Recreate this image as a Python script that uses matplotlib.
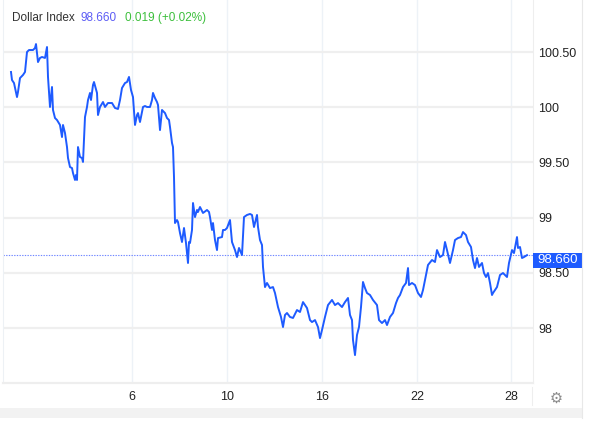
#!/usr/bin/env python3
"""Dollar Index intraday chart — re-drawn with matplotlib"""
import matplotlib
matplotlib.use("Agg")
import matplotlib.pyplot as plt
from matplotlib.patches import Rectangle
from matplotlib.transforms import blended_transform_factory

plt.rcParams['font.family'] = ['Liberation Sans', 'DejaVu Sans']

# trading hours since the first print
hours = [
    0, 1, 3, 6, 7, 9, 12, 14, 16, 18,
    22, 24, 25, 27, 29, 31, 34, 36, 37, 39,
    41, 42, 44, 46, 49, 51, 52, 54, 56, 57,
    59, 61, 62, 64, 65, 66, 67, 69, 71, 72,
    74, 76, 77, 79, 80, 82, 83, 86, 87, 89,
    92, 94, 97, 101, 104, 107, 109, 111, 114, 116,
    118, 120, 122, 124, 126, 127, 129, 131, 132, 134,
    136, 139, 141, 142, 144, 146, 147, 149, 151, 153,
    154, 156, 158, 159, 161, 162, 163, 164, 166, 167,
    169, 171, 173, 175, 177, 178, 179, 181, 182, 184,
    186, 187, 189, 192, 196, 198, 199, 201, 202, 204,
    206, 207, 211, 212, 214, 216, 219, 221, 224, 226,
    228, 231, 233, 236, 239, 241, 243, 246, 247, 249,
    251, 252, 254, 256, 259, 262, 264, 267, 270, 272,
    274, 276, 279, 282, 286, 289, 292, 296, 299, 301,
    304, 307, 309, 311, 314, 317, 321, 324, 327, 331,
    334, 337, 339, 341, 342, 344, 346, 348, 350, 352,
    354, 356, 359, 362, 366, 368, 371, 374, 376, 379,
    382, 385, 387, 389, 392, 395, 397, 398, 401, 404,
    407, 410, 412, 415, 417, 421, 424, 426, 429, 432,
    434, 436, 439, 442, 444, 447, 450, 452, 455, 457,
    460, 462, 464, 466, 468, 471, 473, 475, 477, 479,
    481, 482, 486, 489, 492, 496, 498, 501, 503, 506,
    507, 509, 511, 513, 516,
]

dxy = [
    100.319, 100.246, 100.219, 100.092, 100.138, 100.264, 100.292, 100.319, 100.500, 100.518,
    100.518, 100.536, 100.572, 100.409, 100.446, 100.455, 100.446, 100.545, 100.274, 100.002,
    100.183, 99.975, 99.902, 99.884, 99.839, 99.730, 99.839, 99.766, 99.639, 99.540,
    99.458, 99.449, 99.404, 99.341, 99.386, 99.341, 99.639, 99.549, 99.540, 99.504,
    99.911, 100.002, 100.065, 100.129, 100.065, 100.201, 100.228, 100.129, 99.929, 100.002,
    100.047, 100.002, 100.038, 100.038, 99.993, 99.984, 100.065, 100.174, 100.219, 100.228,
    100.274, 100.156, 100.092, 99.839, 99.929, 99.947, 99.866, 99.957, 100.002, 100.011,
    100.002, 100.002, 100.065, 100.129, 100.083, 100.047, 100.020, 99.793, 99.975, 99.957,
    99.947, 99.902, 99.884, 99.821, 99.676, 99.639, 99.368, 98.951, 98.978, 98.960,
    98.860, 98.779, 98.906, 98.770, 98.589, 98.779, 98.770, 98.888, 99.132, 99.005,
    99.069, 99.051, 99.096, 99.042, 99.069, 99.051, 99.005, 98.888, 98.951, 98.797,
    98.706, 98.815, 98.824, 98.888, 98.888, 98.906, 98.978, 98.779, 98.706, 98.643,
    98.725, 98.661, 99.005, 99.024, 99.033, 99.024, 98.915, 99.024, 98.915, 98.797,
    98.752, 98.553, 98.371, 98.408, 98.362, 98.371, 98.317, 98.190, 98.100, 98.009,
    98.118, 98.136, 98.100, 98.091, 98.163, 98.145, 98.235, 98.181, 98.072, 98.054,
    98.072, 98.009, 97.909, 97.982, 98.100, 98.208, 98.254, 98.208, 98.226, 98.190,
    98.235, 98.272, 98.118, 98.072, 97.891, 97.755, 97.937, 98.009, 98.190, 98.417,
    98.362, 98.317, 98.299, 98.254, 98.208, 98.072, 98.045, 98.072, 98.027, 98.100,
    98.136, 98.226, 98.272, 98.299, 98.371, 98.408, 98.543, 98.389, 98.408, 98.389,
    98.317, 98.281, 98.344, 98.480, 98.571, 98.616, 98.598, 98.706, 98.643, 98.661,
    98.779, 98.706, 98.589, 98.706, 98.797, 98.815, 98.824, 98.869, 98.842, 98.779,
    98.734, 98.616, 98.543, 98.634, 98.553, 98.589, 98.498, 98.462, 98.498, 98.408,
    98.299, 98.317, 98.371, 98.480, 98.498, 98.462, 98.589, 98.706, 98.679, 98.824,
    98.725, 98.734, 98.634, 98.643, 98.660,
]

x_tick_pos = [121, 216, 311, 406, 500]
x_tick_labels = ['6', '10', '16', '22', '28']
y_ticks = [98, 98.5, 99, 99.5, 100, 100.5]
y_tick_labels = ['98', '98.50', '99', '99.50', '100', '100.50']

last = 98.660
change = '0.019 (+0.02%)'

BLUE = '#1e5bff'
W, H = 600, 425

fig = plt.figure(figsize=(6, 4.25), dpi=100)
fig.patch.set_facecolor('white')

# footer strip + outer frame
fig.add_artist(Rectangle((0, 1 - 418 / H), 582 / W, 10 / H, transform=fig.transFigure,
                         color='#f2f2f2', lw=0, zorder=0))
fig.add_artist(plt.Line2D([582 / W, 582 / W], [1 - 418 / H, 1], transform=fig.transFigure,
                          color='#e8e8e8', lw=0.8))
fig.add_artist(plt.Line2D([532 / W, 532 / W], [1 - 405 / H, 1 - 387 / H],
                          transform=fig.transFigure, color='#eeeeee', lw=0.8))

ax = fig.add_axes([3 / W, 1 - 383 / H, 530 / W, 383 / H])
ax.plot(hours, dxy, color=BLUE, lw=1.4, solid_joinstyle='round', zorder=3)

ax.set_xlim(-8, 522)
ax.set_ylim(97.502, 100.971)

ax.set_xticks(x_tick_pos)
ax.set_xticklabels(x_tick_labels)
ax.set_yticks(y_ticks)
ax.set_yticklabels(y_tick_labels)
ax.yaxis.tick_right()
ax.tick_params(axis='both', length=0, labelsize=9, labelcolor='#222222')
ax.tick_params(axis='y', pad=4)
ax.tick_params(axis='x', pad=6)

ax.grid(axis='y', color='#efefef', lw=1.6)
ax.grid(axis='x', color='#edf2f7', lw=1.0)
ax.set_axisbelow(True)

ax.spines['top'].set_visible(False)
ax.spines['left'].set_color('#edf1f5')
ax.spines['right'].set_color('#eeeeee')
ax.spines['bottom'].set_color('#eeeeee')
ax.spines['bottom'].set_linewidth(1.6)

# last price line and tag
ax.axhline(last, color='#6f86ff', lw=0.8, ls=(0, (1.2, 1.2)), zorder=2)
tag = blended_transform_factory(ax.transAxes, ax.transData)
ax.add_patch(Rectangle((1.0, last - 0.112), 49 / 530, 0.135, transform=tag,
                       color=BLUE, lw=0, clip_on=False, zorder=5))
ax.text(1.0 + 24.5 / 530, last - 0.045, f'{last:.3f}', transform=tag,
        ha='center', va='center', fontsize=9.5, color='white', zorder=6)

# header
t1 = fig.text(12 / W, 1 - 18 / H, 'Dollar Index', fontsize=8.5, color='#333333', va='center')
t2 = ax.annotate(f'{last:.3f}', xy=(1, 0), xycoords=t1, xytext=(4, 0),
                 textcoords='offset points', fontsize=8.5, color='#5c5cf5', va='bottom')
ax.annotate(change, xy=(1, 0), xycoords=t2, xytext=(6, 0),
            textcoords='offset points', fontsize=8.5, color='#3cbf3c', va='bottom')

# settings gear
fig.text(556 / W, 1 - 398 / H, '\u2699', fontsize=10.5, color='#8a8a8a',
         ha='center', va='center', family='DejaVu Sans')

fig.savefig('out.png', dpi=100)
